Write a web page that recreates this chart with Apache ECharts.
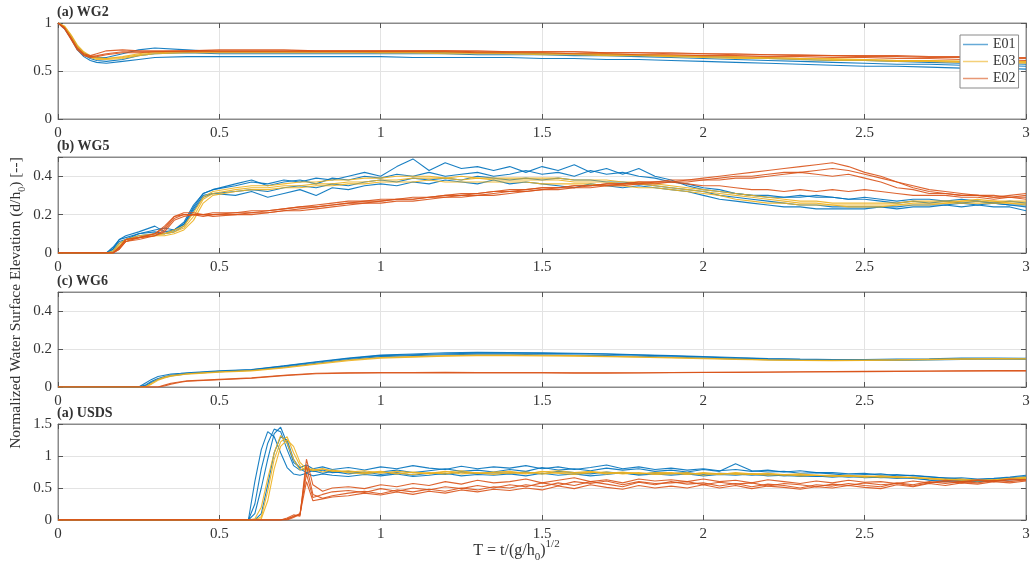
<!DOCTYPE html>
<html>
<head>
<meta charset="utf-8">
<script src="https://cdn.jsdelivr.net/npm/echarts@6/dist/echarts.min.js"></script>
<style>html,body{margin:0;padding:0;background:#fff}#c{width:1033px;height:579px}</style>
</head>
<body>
<div id="c"></div>
<script>
// ---------- tick labels / panel info ----------
const xTicks = [0, 0.5, 1, 1.5, 2, 2.5, 3];
const yTicks = [[0, 0.5, 1], [0, 0.2, 0.4], [0, 0.2, 0.4], [0, 0.5, 1, 1.5]];
const panelTitles = ['(a) WG2', '(b) WG5', '(c) WG6', '(a) USDS'];
const yMax = [1, 0.5, 0.5, 1.5];
const yStep = [0.5, 0.2, 0.2, 0.5];
const expNames = ['E01', 'E03', 'E02'];

// ---------- Panel 1 : WG2 ----------
const p1T = [0,0.02,0.04,0.06,0.08,0.1,0.12,0.15,0.2,0.25,0.3,0.4,0.5,0.6,0.7,0.8,0.9,1.0,1.1,1.2,1.3,1.4,1.5,1.6,1.7,1.8,1.9,2.0,2.1,2.2,2.3,2.4,2.5,2.6,2.7,2.8,2.9,3.0];
const p1E01a = [1,0.95,0.85,0.74,0.67,0.63,0.61,0.60,0.62,0.66,0.68,0.69,0.68,0.68,0.68,0.68,0.68,0.68,0.68,0.68,0.67,0.67,0.67,0.66,0.66,0.65,0.64,0.63,0.62,0.61,0.60,0.59,0.58,0.57,0.57,0.56,0.56,0.55];
const p1E01b = [1,0.96,0.87,0.76,0.69,0.65,0.64,0.64,0.68,0.72,0.74,0.72,0.70,0.70,0.70,0.70,0.70,0.70,0.70,0.69,0.69,0.69,0.68,0.68,0.67,0.66,0.66,0.65,0.64,0.63,0.62,0.61,0.61,0.60,0.59,0.58,0.58,0.57];
const p1E01c = [1,0.94,0.84,0.72,0.65,0.61,0.59,0.58,0.60,0.62,0.64,0.65,0.65,0.65,0.65,0.65,0.65,0.65,0.64,0.64,0.64,0.64,0.63,0.63,0.62,0.62,0.61,0.60,0.59,0.58,0.57,0.56,0.55,0.55,0.54,0.53,0.53,0.52];
const p1E03a = [1,0.97,0.88,0.77,0.70,0.66,0.64,0.63,0.64,0.67,0.69,0.70,0.70,0.70,0.70,0.70,0.70,0.70,0.70,0.70,0.69,0.69,0.69,0.68,0.68,0.67,0.66,0.66,0.65,0.64,0.63,0.63,0.62,0.61,0.61,0.60,0.60,0.59];
const p1E03b = [1,0.96,0.87,0.75,0.68,0.64,0.62,0.62,0.63,0.66,0.68,0.69,0.69,0.69,0.69,0.69,0.69,0.69,0.69,0.68,0.68,0.68,0.67,0.67,0.66,0.66,0.65,0.64,0.63,0.63,0.62,0.61,0.61,0.60,0.60,0.59,0.59,0.58];
const p1E03c = [1,0.96,0.86,0.75,0.69,0.65,0.63,0.63,0.65,0.68,0.70,0.70,0.70,0.70,0.70,0.70,0.70,0.69,0.69,0.69,0.69,0.68,0.68,0.68,0.67,0.67,0.66,0.65,0.64,0.64,0.63,0.62,0.62,0.61,0.61,0.60,0.60,0.60];
const p1E02a = [1,0.95,0.84,0.73,0.67,0.65,0.66,0.68,0.70,0.70,0.70,0.71,0.71,0.71,0.71,0.71,0.71,0.71,0.71,0.71,0.70,0.70,0.70,0.70,0.69,0.69,0.68,0.68,0.67,0.67,0.66,0.66,0.65,0.65,0.64,0.64,0.63,0.63];
const p1E02b = [1,0.94,0.83,0.72,0.66,0.64,0.65,0.67,0.69,0.69,0.70,0.70,0.70,0.70,0.70,0.70,0.70,0.70,0.70,0.70,0.69,0.69,0.69,0.68,0.68,0.67,0.67,0.66,0.66,0.65,0.65,0.64,0.64,0.63,0.63,0.62,0.62,0.61];
const p1E02c = [1,0.95,0.85,0.74,0.68,0.66,0.68,0.71,0.72,0.71,0.71,0.71,0.72,0.72,0.72,0.71,0.71,0.71,0.71,0.71,0.71,0.70,0.70,0.70,0.69,0.69,0.69,0.68,0.68,0.67,0.67,0.66,0.66,0.66,0.65,0.65,0.64,0.64];

// ---------- Panel 2 : WG5 ----------
const p2T = [0,0.15,0.17,0.19,0.21,0.25,0.3,0.33,0.36,0.39,0.42,0.45,0.48,
  0.55,0.6,0.65,0.7,0.75,0.8,0.85,0.9,0.95,1.0,
  1.05,1.1,1.15,1.2,1.25,1.3,1.35,1.4,1.45,1.5,
  1.55,1.6,1.65,1.7,1.75,1.8,1.85,1.9,1.95,2.0,
  2.05,2.1,2.15,2.2,2.25,2.3,2.35,2.4,2.45,2.5,
  2.55,2.6,2.65,2.7,2.75,2.8,2.85,2.9,2.95,3.0];
const p2E01a = [0,0,0.03,0.07,0.09,0.11,0.14,0.11,0.12,0.16,0.25,0.31,0.33,
  0.35,0.37,0.36,0.38,0.37,0.39,0.38,0.40,0.42,0.40,
  0.45,0.49,0.43,0.47,0.44,0.45,0.43,0.45,0.42,0.45,
  0.43,0.46,0.42,0.44,0.41,0.44,0.40,0.38,0.35,0.33,
  0.32,0.31,0.30,0.30,0.29,0.29,0.30,0.29,0.28,0.29,
  0.28,0.27,0.28,0.28,0.27,0.28,0.27,0.26,0.27,0.26];
const p2E01b = [0,0,0.02,0.06,0.07,0.09,0.10,0.10,0.11,0.14,0.22,0.29,0.31,
  0.32,0.33,0.32,0.34,0.35,0.34,0.36,0.35,0.37,0.38,
  0.37,0.39,0.38,0.39,0.38,0.40,0.39,0.38,0.39,0.38,
  0.39,0.38,0.38,0.37,0.37,0.36,0.35,0.34,0.33,0.32,
  0.30,0.29,0.28,0.27,0.26,0.25,0.25,0.24,0.24,0.24,
  0.24,0.24,0.25,0.25,0.25,0.26,0.25,0.26,0.25,0.24];
const p2E01c = [0,0,0.01,0.05,0.07,0.10,0.12,0.13,0.12,0.15,0.23,0.30,0.31,
  0.30,0.32,0.29,0.31,0.33,0.30,0.34,0.33,0.35,0.36,
  0.35,0.37,0.36,0.38,0.37,0.36,0.38,0.36,0.37,0.36,
  0.35,0.34,0.36,0.35,0.34,0.35,0.34,0.33,0.32,0.30,
  0.28,0.27,0.26,0.25,0.24,0.24,0.23,0.23,0.23,0.23,
  0.24,0.23,0.24,0.24,0.25,0.24,0.25,0.24,0.24,0.22];
const p2E01d = [0,0,0.02,0.07,0.08,0.10,0.11,0.10,0.12,0.15,0.24,0.31,0.33,
  0.36,0.38,0.35,0.37,0.38,0.36,0.39,0.38,0.40,0.39,
  0.41,0.40,0.42,0.40,0.41,0.42,0.40,0.41,0.43,0.41,
  0.42,0.40,0.43,0.41,0.42,0.40,0.39,0.37,0.36,0.34,
  0.33,0.31,0.30,0.29,0.29,0.30,0.29,0.29,0.28,0.28,
  0.27,0.26,0.27,0.26,0.27,0.26,0.27,0.26,0.25,0.25];
const p2E03a = [0,0,0,0.04,0.07,0.08,0.09,0.10,0.11,0.13,0.19,0.28,0.31,
  0.33,0.34,0.34,0.35,0.35,0.36,0.36,0.37,0.37,0.38,
  0.38,0.39,0.39,0.39,0.38,0.39,0.38,0.38,0.38,0.38,
  0.38,0.37,0.37,0.37,0.36,0.36,0.35,0.34,0.33,0.32,
  0.31,0.30,0.29,0.28,0.27,0.26,0.26,0.25,0.25,0.25,
  0.25,0.25,0.26,0.26,0.26,0.27,0.27,0.27,0.26,0.26];
const p2E03b = [0,0,0,0.03,0.06,0.08,0.09,0.09,0.10,0.12,0.17,0.26,0.30,
  0.32,0.33,0.33,0.34,0.34,0.35,0.35,0.36,0.36,0.37,
  0.37,0.37,0.38,0.37,0.37,0.37,0.37,0.37,0.37,0.36,
  0.36,0.36,0.36,0.35,0.35,0.34,0.34,0.33,0.32,0.31,
  0.30,0.28,0.27,0.26,0.26,0.25,0.25,0.25,0.24,0.24,
  0.24,0.25,0.25,0.25,0.26,0.26,0.26,0.26,0.26,0.25];
const p2E03c = [0,0,0.01,0.05,0.07,0.09,0.10,0.10,0.12,0.14,0.21,0.29,0.32,
  0.34,0.35,0.35,0.36,0.37,0.37,0.38,0.38,0.39,0.39,
  0.40,0.40,0.40,0.39,0.40,0.39,0.39,0.39,0.39,0.39,
  0.39,0.38,0.38,0.38,0.37,0.37,0.36,0.35,0.34,0.33,
  0.32,0.31,0.30,0.29,0.28,0.27,0.27,0.26,0.26,0.26,
  0.26,0.26,0.27,0.27,0.27,0.27,0.28,0.27,0.27,0.27];
const p2E02a = [0,0,0,0.03,0.07,0.08,0.10,0.14,0.19,0.20,0.20,0.20,0.20,
  0.21,0.21,0.22,0.23,0.24,0.25,0.26,0.27,0.27,0.28,
  0.28,0.29,0.29,0.30,0.30,0.31,0.32,0.32,0.33,0.34,
  0.34,0.35,0.35,0.36,0.36,0.37,0.37,0.38,0.38,0.39,
  0.40,0.41,0.42,0.43,0.44,0.45,0.46,0.47,0.45,0.42,
  0.40,0.37,0.35,0.33,0.32,0.31,0.30,0.30,0.29,0.29];
const p2E02b = [0,0,0,0.02,0.06,0.08,0.09,0.12,0.18,0.20,0.20,0.19,0.20,
  0.20,0.21,0.21,0.22,0.23,0.24,0.25,0.26,0.26,0.27,
  0.28,0.28,0.29,0.29,0.30,0.30,0.31,0.32,0.32,0.33,
  0.34,0.34,0.35,0.35,0.36,0.36,0.37,0.37,0.38,0.38,
  0.39,0.40,0.40,0.41,0.42,0.42,0.43,0.44,0.43,0.41,
  0.39,0.37,0.34,0.32,0.31,0.30,0.30,0.29,0.29,0.30];
const p2E02c = [0,0,0,0.03,0.07,0.08,0.10,0.13,0.19,0.21,0.21,0.20,0.21,
  0.21,0.22,0.22,0.23,0.24,0.24,0.25,0.26,0.27,0.27,
  0.28,0.28,0.29,0.30,0.31,0.31,0.32,0.33,0.33,0.34,
  0.34,0.35,0.35,0.36,0.36,0.37,0.37,0.37,0.36,0.35,
  0.35,0.34,0.33,0.33,0.32,0.33,0.32,0.33,0.32,0.33,
  0.32,0.31,0.30,0.30,0.30,0.29,0.29,0.28,0.29,0.28];
const p2E02d = [0,0,0,0.02,0.06,0.07,0.09,0.11,0.17,0.19,0.20,0.20,0.19,
  0.20,0.20,0.21,0.22,0.22,0.23,0.24,0.25,0.26,0.26,
  0.27,0.27,0.28,0.29,0.29,0.30,0.30,0.31,0.32,0.33,
  0.33,0.34,0.34,0.35,0.35,0.36,0.36,0.37,0.37,0.38,
  0.38,0.39,0.39,0.40,0.41,0.42,0.41,0.40,0.41,0.39,
  0.37,0.34,0.33,0.31,0.31,0.30,0.30,0.29,0.30,0.31];

// ---------- Panel 3 : WG6 ----------
const p3T = [0,0.25,0.27,0.29,0.31,0.33,0.35,0.38,0.4,0.45,0.5,
  0.6,0.7,0.8,0.9,1.0,1.1,1.2,1.3,1.4,1.5,
  1.6,1.7,1.8,1.9,2.0,2.1,2.2,2.3,2.4,2.5,
  2.6,2.7,2.8,2.9,3.0];
const p3E01a = [0,0,0.01,0.03,0.045,0.055,0.062,0.068,0.072,0.078,0.082,
  0.09,0.11,0.13,0.15,0.165,0.17,0.175,0.178,0.178,0.177,
  0.175,0.172,0.168,0.163,0.158,0.152,0.148,0.145,0.143,0.142,
  0.143,0.145,0.148,0.15,0.148];
const p3E01b = [0,0,0.005,0.025,0.04,0.05,0.058,0.065,0.07,0.075,0.08,
  0.088,0.105,0.125,0.145,0.16,0.165,0.17,0.172,0.172,0.17,
  0.168,0.165,0.162,0.158,0.153,0.148,0.144,0.141,0.14,0.14,
  0.141,0.143,0.145,0.147,0.146];
const p3E01c = [0,0,0.02,0.04,0.055,0.062,0.068,0.072,0.075,0.08,0.085,
  0.092,0.112,0.133,0.152,0.168,0.174,0.18,0.182,0.181,0.18,
  0.178,0.175,0.17,0.165,0.16,0.155,0.15,0.147,0.145,0.145,
  0.147,0.149,0.152,0.153,0.151];
const p3E03a = [0,0,0,0.02,0.04,0.052,0.06,0.066,0.07,0.075,0.08,
  0.087,0.103,0.122,0.142,0.155,0.16,0.165,0.168,0.168,0.167,
  0.165,0.162,0.158,0.155,0.151,0.147,0.143,0.141,0.14,0.141,
  0.143,0.146,0.148,0.15,0.149];
const p3E03b = [0,0,0,0.015,0.035,0.048,0.057,0.063,0.068,0.073,0.078,
  0.085,0.1,0.12,0.138,0.152,0.157,0.162,0.165,0.165,0.164,
  0.162,0.16,0.157,0.153,0.149,0.145,0.142,0.14,0.139,0.14,
  0.142,0.144,0.146,0.148,0.147];
const p3E02a = [0,0,0,0,0,0.01,0.02,0.028,0.032,0.036,0.04,
  0.048,0.062,0.072,0.075,0.076,0.076,0.077,0.076,0.076,0.076,
  0.075,0.075,0.075,0.076,0.077,0.078,0.079,0.08,0.081,0.082,
  0.083,0.084,0.085,0.086,0.086];
const p3E02b = [0,0,0,0,0,0.005,0.015,0.025,0.03,0.034,0.038,
  0.046,0.06,0.07,0.073,0.074,0.074,0.075,0.074,0.074,0.074,
  0.073,0.073,0.074,0.075,0.076,0.077,0.078,0.079,0.08,0.081,
  0.082,0.083,0.084,0.084,0.085];

// ---------- Panel 4 : USDS ----------
const p4T = [0,0.59,0.61,0.63,0.65,0.67,0.69,0.71,0.73,0.75,0.77,0.79,0.82,0.85,
  0.9,0.95,1.0,1.05,1.1,1.15,1.2,1.25,1.3,1.35,
  1.4,1.45,1.5,1.55,1.6,1.65,1.7,1.75,1.8,1.85,
  1.9,1.95,2.0,2.05,2.1,2.15,2.2,2.25,2.3,2.35,
  2.4,2.45,2.5,2.55,2.6,2.65,2.7,2.75,2.8,2.85,
  2.9,2.95,3.0];
const p4E01a = [0,0,0.25,0.8,1.2,1.42,1.38,1.1,0.85,0.78,0.8,0.76,0.78,0.74,
  0.76,0.73,0.75,0.78,0.74,0.77,0.8,0.76,0.78,0.75,
  0.79,0.76,0.82,0.78,0.8,0.77,0.81,0.78,0.8,0.76,
  0.78,0.75,0.79,0.76,0.88,0.77,0.75,0.76,0.73,0.74,
  0.72,0.7,0.71,0.72,0.69,0.7,0.67,0.66,0.64,0.63,
  0.64,0.66,0.68];
const p4E01b = [0,0,0,0.1,0.55,1.05,1.3,1.25,0.95,0.8,0.74,0.77,0.73,0.76,
  0.72,0.75,0.71,0.74,0.7,0.73,0.71,0.75,0.72,0.74,
  0.73,0.75,0.72,0.76,0.74,0.72,0.75,0.73,0.71,0.74,
  0.72,0.74,0.71,0.73,0.72,0.7,0.71,0.69,0.7,0.68,
  0.69,0.67,0.68,0.66,0.67,0.65,0.63,0.62,0.6,0.61,
  0.62,0.63,0.65];
const p4E01c = [0,0,0.6,1.1,1.38,1.3,1.05,0.82,0.72,0.7,0.73,0.69,0.72,0.7,
  0.68,0.71,0.69,0.72,0.68,0.7,0.73,0.69,0.71,0.7,
  0.72,0.69,0.73,0.7,0.72,0.69,0.71,0.74,0.7,0.72,
  0.7,0.72,0.69,0.71,0.7,0.72,0.69,0.7,0.68,0.69,
  0.67,0.69,0.66,0.67,0.65,0.66,0.62,0.6,0.62,0.6,
  0.61,0.63,0.64];
const p4E01d = [0,0,0.1,0.5,0.95,1.35,1.45,1.2,0.9,0.82,0.86,0.8,0.83,0.79,
  0.82,0.78,0.83,0.8,0.85,0.81,0.79,0.84,0.8,0.83,
  0.81,0.85,0.8,0.83,0.79,0.82,0.86,0.8,0.83,0.79,
  0.81,0.78,0.8,0.77,0.79,0.76,0.78,0.75,0.77,0.74,
  0.74,0.72,0.73,0.7,0.71,0.69,0.68,0.65,0.66,0.64,
  0.65,0.67,0.7];
const p4E03a = [0,0,0,0.05,0.45,0.95,1.22,1.3,1.05,0.85,0.76,0.8,0.75,0.78,
  0.74,0.72,0.75,0.73,0.71,0.74,0.72,0.75,0.73,0.74,
  0.73,0.75,0.72,0.74,0.73,0.75,0.72,0.74,0.73,0.72,
  0.73,0.71,0.74,0.72,0.73,0.71,0.72,0.7,0.71,0.7,
  0.69,0.7,0.68,0.69,0.67,0.66,0.65,0.64,0.63,0.62,
  0.63,0.64,0.66];
const p4E03b = [0,0,0,0.02,0.3,0.8,1.15,1.25,1.15,0.9,0.8,0.77,0.8,0.76,
  0.77,0.74,0.76,0.72,0.75,0.73,0.76,0.72,0.74,0.71,
  0.74,0.72,0.76,0.73,0.71,0.74,0.75,0.72,0.74,0.71,
  0.72,0.74,0.7,0.73,0.71,0.72,0.7,0.71,0.69,0.7,
  0.68,0.69,0.67,0.68,0.66,0.67,0.64,0.63,0.62,0.61,
  0.62,0.64,0.65];
const p4E03c = [0,0,0.02,0.2,0.65,1.05,1.32,1.2,0.95,0.78,0.82,0.78,0.8,0.77,
  0.75,0.77,0.73,0.76,0.74,0.72,0.75,0.77,0.73,0.75,
  0.76,0.73,0.75,0.77,0.74,0.76,0.73,0.75,0.72,0.74,
  0.74,0.72,0.73,0.71,0.74,0.72,0.73,0.71,0.72,0.7,
  0.7,0.68,0.69,0.67,0.68,0.66,0.65,0.63,0.64,0.62,
  0.63,0.65,0.67];
const p4E02a = [0,0,0,0,0,0,0,0.02,0.06,0.08,0.85,0.4,0.34,0.38,
  0.42,0.45,0.41,0.47,0.44,0.48,0.45,0.5,0.47,0.52,
  0.5,0.55,0.52,0.58,0.54,0.6,0.56,0.52,0.59,0.55,
  0.6,0.56,0.58,0.53,0.57,0.52,0.56,0.54,0.5,0.55,
  0.53,0.57,0.54,0.52,0.58,0.55,0.6,0.57,0.6,0.58,
  0.62,0.6,0.63];
const p4E02b = [0,0,0,0,0,0,0,0.01,0.05,0.1,0.72,0.35,0.4,0.44,
  0.46,0.43,0.49,0.45,0.5,0.47,0.52,0.49,0.54,0.5,
  0.55,0.52,0.58,0.54,0.6,0.57,0.61,0.55,0.6,0.57,
  0.58,0.6,0.55,0.59,0.56,0.58,0.53,0.57,0.55,0.52,
  0.56,0.54,0.58,0.55,0.57,0.53,0.58,0.6,0.58,0.62,
  0.6,0.63,0.62];
const p4E02c = [0,0,0,0,0,0,0,0.03,0.08,0.06,0.95,0.55,0.45,0.5,
  0.52,0.49,0.55,0.52,0.57,0.54,0.6,0.56,0.62,0.58,
  0.6,0.64,0.58,0.62,0.66,0.6,0.63,0.58,0.64,0.61,
  0.63,0.6,0.64,0.6,0.62,0.58,0.63,0.6,0.57,0.61,
  0.58,0.62,0.59,0.6,0.57,0.61,0.58,0.62,0.6,0.63,
  0.61,0.64,0.63];
const p4E02d = [0,0,0,0,0,0,0,0,0.04,0.09,0.6,0.3,0.33,0.36,
  0.38,0.42,0.39,0.44,0.4,0.45,0.42,0.47,0.44,0.48,
  0.46,0.5,0.47,0.53,0.49,0.55,0.51,0.48,0.54,0.5,
  0.53,0.5,0.55,0.5,0.54,0.49,0.53,0.51,0.48,0.52,
  0.5,0.54,0.51,0.49,0.55,0.52,0.57,0.54,0.58,0.56,
  0.6,0.58,0.61];

// ---------- assembly ----------
const colors = { E01: '#0072BD', E03: '#EDB120', E02: '#D95319' };
const panels = [
  { T: p1T, runs: { E01: [p1E01a, p1E01b, p1E01c], E03: [p1E03a, p1E03b, p1E03c], E02: [p1E02a, p1E02b, p1E02c] } },
  { T: p2T, runs: { E01: [p2E01a, p2E01b, p2E01c, p2E01d], E03: [p2E03a, p2E03b, p2E03c], E02: [p2E02a, p2E02b, p2E02c, p2E02d] } },
  { T: p3T, runs: { E01: [p3E01a, p3E01b, p3E01c], E03: [p3E03a, p3E03b], E02: [p3E02a, p3E02b] } },
  { T: p4T, runs: { E01: [p4E01a, p4E01b, p4E01c, p4E01d], E03: [p4E03a, p4E03b, p4E03c], E02: [p4E02a, p4E02b, p4E02c, p4E02d] } }
];

const FONT = '"Liberation Serif", "Times New Roman", serif';
const gridPos = [
  { top: 23, height: 96 },
  { top: 157, height: 96 },
  { top: 292, height: 95 },
  { top: 424, height: 96 }
];
const grids = [], xAxes = [], yAxes = [], series = [], titles = [];
gridPos.forEach((g, i) => {
  grids.push({ left: 58, right: 7, top: g.top, height: g.height, show: true, borderColor: '#8a8a8a', borderWidth: 1, backgroundColor: '#fff' });
  titles.push({ text: panelTitles[i], left: 57, top: g.top - 18, padding: 0,
    textStyle: { fontFamily: FONT, fontSize: 14, fontWeight: 'bold', color: '#333' } });
});
const near = (arr, v) => arr.some(t => Math.abs(t - v) < 1e-6);
// main axes 0..3
gridPos.forEach((g, i) => {
  xAxes.push({ type: 'value', gridIndex: i, min: 0, max: 3, interval: 0.5, position: 'bottom',
    axisLine: { show: true, onZero: false, lineStyle: { color: '#8a8a8a', width: 1 } },
    axisTick: { show: true, inside: true, length: 5, lineStyle: { color: '#555' } },
    axisLabel: { show: true, margin: 7, fontFamily: FONT, fontSize: 15, color: '#333',
      formatter: v => (near(xTicks, v) ? String(v) : '') },
    splitLine: { show: true, lineStyle: { color: '#e3e3e3', width: 1 } } });
  yAxes.push({ type: 'value', gridIndex: i, min: 0, max: yMax[i], interval: yStep[i], position: 'left',
    axisLine: { show: true, onZero: false, lineStyle: { color: '#8a8a8a', width: 1 } },
    axisTick: { show: true, inside: true, length: 5, lineStyle: { color: '#555' } },
    axisLabel: { show: true, margin: 6, fontFamily: FONT, fontSize: 15, color: '#333',
      formatter: v => (near(yTicks[i], v) ? String(v) : '') },
    splitLine: { show: true, lineStyle: { color: '#e3e3e3', width: 1 } } });
});
// mirror axes 4..7 (top / right ticks)
gridPos.forEach((g, i) => {
  xAxes.push({ type: 'value', gridIndex: i, min: 0, max: 3, interval: 0.5, position: 'top',
    axisLine: { show: true, onZero: false, lineStyle: { color: '#8a8a8a' } },
    axisTick: { show: true, inside: true, length: 5, lineStyle: { color: '#555' } },
    axisLabel: { show: false }, splitLine: { show: false } });
  yAxes.push({ type: 'value', gridIndex: i, min: 0, max: yMax[i], interval: yStep[i], position: 'right',
    axisLine: { show: true, onZero: false, lineStyle: { color: '#8a8a8a' } },
    axisTick: { show: true, inside: true, length: 5, lineStyle: { color: '#555' } },
    axisLabel: { show: false }, splitLine: { show: false } });
});

panels.forEach((p, i) => {
  expNames.forEach(name => {
    p.runs[name].forEach(y => {
      series.push({
        type: 'line', name: name, xAxisIndex: i, yAxisIndex: i,
        data: p.T.map((t, k) => [t, y[k]]),
        symbol: 'none', showSymbol: false, silent: true, z: 3,
        lineStyle: { width: 1.1, color: colors[name], opacity: 0.9 },
        itemStyle: { color: colors[name] }
      });
    });
  });
});

const chart = echarts.init(document.getElementById('c'), null, { renderer: 'canvas' });
chart.setOption({
  animation: false,
  backgroundColor: '#fff',
  title: titles,
  grid: grids,
  xAxis: xAxes,
  yAxis: yAxes,
  legend: {
    data: expNames.map(n => ({ name: n, icon: 'rect', itemStyle: { color: colors[n], opacity: 0.6 } })),
    orient: 'vertical', left: 960, top: 35,
    backgroundColor: '#fff', borderColor: '#8a8a8a', borderWidth: 1, borderRadius: 0,
    padding: [2, 3, 2, 3], itemGap: 2, itemWidth: 25, itemHeight: 1.5,
    textStyle: { fontFamily: FONT, fontSize: 14, color: '#333', lineHeight: 15 },
    selectedMode: false
  },
  graphic: [
    { type: 'text', left: 'center', top: 539,
      style: { text: '{a|T = t/(g/h}{sub|0}{a|)}{sup|1/2}',
        rich: { a: { fontFamily: FONT, fontSize: 16, lineHeight: 24, fill: '#333' },
                sub: { fontFamily: FONT, fontSize: 11, lineHeight: 11, verticalAlign: 'bottom', fill: '#333' },
                sup: { fontFamily: FONT, fontSize: 11, lineHeight: 11, verticalAlign: 'top', fill: '#333' } } } },
    { type: 'text', x: 16, y: 303, rotation: Math.PI / 2,
      style: { text: '{a|Normalized Water Surface Elevation (d/h}{sub|0}{a|) [--]}',
        align: 'center', verticalAlign: 'middle',
        rich: { a: { fontFamily: FONT, fontSize: 15.5, lineHeight: 22, fill: '#333' },
                sub: { fontFamily: FONT, fontSize: 10, lineHeight: 10, verticalAlign: 'bottom', fill: '#333' } } } }
  ],
  series: series
});
</script>
</body>
</html>
